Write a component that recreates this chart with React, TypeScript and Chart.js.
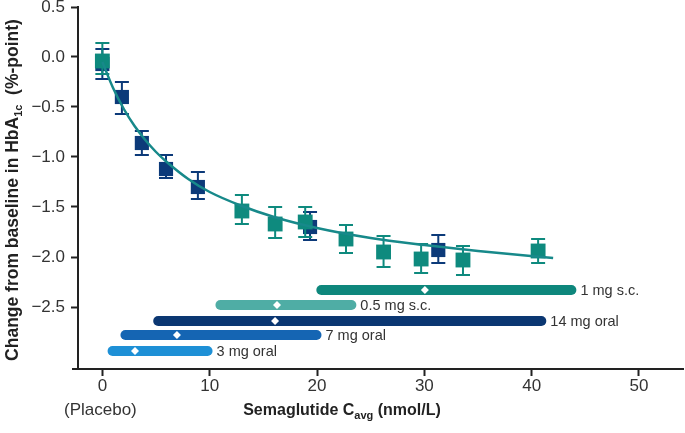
import React, { useEffect, useRef } from "react";
import { Chart, registerables } from "chart.js";

Chart.register(...registerables);

// ---- axis ticks ----
const X_TICKS = [0, 10, 20, 30, 40, 50];
const Y_TICKS = [0.5, 0, -0.5, -1, -1.5, -2, -2.5];

// ---- oral semaglutide (navy) exposure groups ----
const navyX = [0, 1.82, 3.68, 5.93, 8.9, 19.35, 31.3];
const navyY = [-0.07, -0.4, -0.86, -1.12, -1.3, -1.7, -1.93];
const navyHi = [0.08, -0.25, -0.74, -0.98, -1.15, -1.55, -1.78];
const navyLo = [-0.22, -0.57, -0.98, -1.21, -1.42, -1.83, -2.06];

// ---- s.c. semaglutide (teal) exposure groups ----
const tealX = [0, 13.0, 16.1, 18.9, 22.7, 26.2, 29.7, 33.6, 40.6];
const tealY = [-0.04, -1.54, -1.67, -1.65, -1.82, -1.95, -2.02, -2.03, -1.94];
const tealHi = [0.14, -1.38, -1.5, -1.5, -1.68, -1.79, -1.87, -1.89, -1.82];
const tealLo = [-0.17, -1.67, -1.81, -1.8, -1.96, -2.1, -2.16, -2.18, -2.06];

// ---- fitted exposure-response curve ----
const curveX = [0, 1, 2, 3, 4, 5, 6, 8, 10, 13, 16, 20, 25, 30, 35, 42];
const curveY = [-0.05, -0.31, -0.52, -0.69, -0.83, -0.95, -1.05, -1.22, -1.35, -1.49, -1.6, -1.71, -1.81, -1.88, -1.94, -2.01];

// ---- exposure ranges per dose ----
const rangeLabels = ["1 mg s.c.", "0.5 mg s.c.", "14 mg oral", "7 mg oral", "3 mg oral"];
const rangeLow = [20.4, 11.0, 5.2, 2.15, 0.95];
const rangeHigh = [43.7, 23.2, 40.9, 19.95, 9.8];
const rangeMedian = [30.05, 16.27, 16.09, 6.95, 3.04];
const rangeRow = [-2.33, -2.48, -2.64, -2.78, -2.94];

// ---- styles ----
const TEAL = "#0e8a7e";
const NAVY = "#0c3a79";
const CURVE = "#17898a";
const RANGE_COLORS = ["#0e877c", "#4fada5", "#0b3772", "#1565b3", "#1e90d6"];
const FONT = "'Liberation Sans', Arial, sans-serif";
const TEXT = "#333333";
const AXIS = "#222222";

const fmtY = (v: number) => (v < 0 ? "\u2212" : "") + Math.abs(v).toFixed(1);

type Part = { t: string; sub?: boolean };

function drawParts(ctx: CanvasRenderingContext2D, parts: Part[], size: number, subSize: number, bold: boolean) {
  const w = bold ? "bold " : "";
  let total = 0;
  const widths = parts.map((p) => {
    ctx.font = `${w}${p.sub ? subSize : size}px ${FONT}`;
    const m = ctx.measureText(p.t).width;
    total += m;
    return m;
  });
  let x = -total / 2;
  parts.forEach((p, i) => {
    ctx.font = `${w}${p.sub ? subSize : size}px ${FONT}`;
    ctx.fillText(p.t, x, p.sub ? size * 0.32 : 0);
    x += widths[i];
  });
}

const errorBarPlugin = {
  id: "errbars",
  beforeDatasetDraw(chart: any, args: any) {
    const ds = chart.data.datasets[args.index];
    if (!ds.errLo) return;
    const xs = chart.scales.x;
    const ys = chart.scales.y;
    const ctx = chart.ctx as CanvasRenderingContext2D;
    ctx.save();
    ctx.strokeStyle = ds.backgroundColor;
    ctx.lineWidth = 2;
    ds.data.forEach((p: any, i: number) => {
      const px = xs.getPixelForValue(p.x);
      const yh = ys.getPixelForValue(ds.errHi[i]);
      const yl = ys.getPixelForValue(ds.errLo[i]);
      ctx.beginPath();
      ctx.moveTo(px, yh);
      ctx.lineTo(px, yl);
      ctx.moveTo(px - 7, yh);
      ctx.lineTo(px + 7, yh);
      ctx.moveTo(px - 7, yl);
      ctx.lineTo(px + 7, yl);
      ctx.stroke();
    });
    ctx.restore();
  },
};

const textPlugin = {
  id: "texts",
  afterDraw(chart: any) {
    const ctx = chart.ctx as CanvasRenderingContext2D;
    const xs = chart.scales.x;
    const ys = chart.scales.y;
    const area = chart.chartArea;
    ctx.save();
    // short extension of the x axis line to the left of the y axis
    ctx.strokeStyle = AXIS;
    ctx.lineWidth = 2;
    ctx.beginPath();
    ctx.moveTo(area.left - 6, area.bottom);
    ctx.lineTo(area.left, area.bottom);
    ctx.stroke();

    ctx.fillStyle = TEXT;
    ctx.textBaseline = "middle";
    ctx.textAlign = "left";
    ctx.font = `14.5px ${FONT}`;
    rangeLabels.forEach((lab, i) => {
      const px = xs.getPixelForValue(rangeHigh[i]) + 5 + 4;
      const py = ys.getPixelForValue(rangeRow[i]);
      ctx.fillText(lab, px, py + 0.5);
    });
    // placebo label
    ctx.textAlign = "center";
    ctx.font = `17px ${FONT}`;
    ctx.fillText("(Placebo)", xs.getPixelForValue(0) - 2, 410);
    ctx.textAlign = "left";
    ctx.fillStyle = "#222";
    // x title
    ctx.save();
    ctx.translate(342, 411);
    drawParts(ctx, [{ t: "Semaglutide C" }, { t: "avg", sub: true }, { t: " (nmol/L)" }], 16, 11, true);
    ctx.restore();
    // y title
    ctx.save();
    ctx.translate(13, 190);
    ctx.rotate(-Math.PI / 2);
    drawParts(ctx, [{ t: "Change from baseline in HbA" }, { t: "1c", sub: true }, { t: "  (%-point)" }], 17.5, 11, true);
    ctx.restore();
    ctx.restore();
  },
};

export default function App() {
  const ref = useRef<HTMLCanvasElement | null>(null);
  useEffect(() => {
    if (!ref.current) return;
    const datasets: any[] = [];
    datasets.push({
      type: "scatter",
      showLine: true,
      data: curveX.map((x, i) => ({ x, y: curveY[i] })),
      borderColor: CURVE,
      borderWidth: 2.5,
      pointRadius: 0,
      cubicInterpolationMode: "monotone",
      order: 0,
    });
    datasets.push({
      type: "scatter",
      data: tealX.map((x, i) => ({ x, y: tealY[i] })),
      errHi: tealHi,
      errLo: tealLo,
      backgroundColor: TEAL,
      borderWidth: 0,
      pointStyle: "rect",
      pointRadius: 10.5,
      order: 1,
    });
    datasets.push({
      type: "scatter",
      data: navyX.map((x, i) => ({ x, y: navyY[i] })),
      errHi: navyHi,
      errLo: navyLo,
      backgroundColor: NAVY,
      borderWidth: 0,
      pointStyle: "rect",
      pointRadius: 10,
      order: 2,
    });
    datasets.push({
      type: "scatter",
      data: rangeMedian.map((x, i) => ({ x, y: rangeRow[i] })),
      backgroundColor: "#ffffff",
      borderWidth: 0,
      pointStyle: "rectRot",
      pointRadius: 4,
      order: 3,
    });
    rangeLabels.forEach((_, i) => {
      datasets.push({
        type: "scatter",
        showLine: true,
        data: [
          { x: rangeLow[i], y: rangeRow[i] },
          { x: rangeHigh[i], y: rangeRow[i] },
        ],
        borderColor: RANGE_COLORS[i],
        borderWidth: 10,
        borderCapStyle: "round",
        pointRadius: 0,
        order: 4 + i,
      });
    });

    const chart = new Chart(ref.current, {
      type: "scatter",
      data: { datasets },
      plugins: [errorBarPlugin, textPlugin],
      options: {
        animation: false,
        responsive: false,
        events: [],
        layout: { autoPadding: false, padding: { left: 0, right: 2, top: 7, bottom: 0 } },
        plugins: { legend: { display: false }, tooltip: { enabled: false } },
        scales: {
          x: {
            type: "linear",
            min: -2.27,
            max: 54.1,
            afterBuildTicks: (s: any) => {
              s.ticks = X_TICKS.map((v) => ({ value: v }));
            },
            afterFit: (s: any) => {
              s.height = 64;
              s.paddingLeft = 0;
              s.paddingRight = 0;
            },
            border: { display: true, color: AXIS, width: 2 },
            grid: { display: true, drawOnChartArea: false, drawTicks: true, tickLength: 7, tickWidth: 2, tickColor: AXIS },
            ticks: {
              color: TEXT,
              font: { family: FONT, size: 17 },
              padding: 0,
              maxRotation: 0,
              callback: (v: any) => String(v),
            },
          },
          y: {
            type: "linear",
            min: -3.12,
            max: 0.5,
            afterBuildTicks: (s: any) => {
              s.ticks = Y_TICKS.map((v) => ({ value: v }));
            },
            afterFit: (s: any) => {
              s.width = 78;
              s.paddingTop = 0;
              s.paddingBottom = 0;
            },
            border: { display: true, color: AXIS, width: 2 },
            grid: { display: true, drawOnChartArea: false, drawTicks: true, tickLength: 7, tickWidth: 2, tickColor: AXIS },
            ticks: {
              color: TEXT,
              font: { family: FONT, size: 17 },
              padding: 6,
              callback: (v: any) => fmtY(Number(v)),
            },
          },
        },
      } as any,
    });
    return () => chart.destroy();
  }, []);

  return (
    <div style={{ position: "fixed", left: 0, top: 0, width: 685, height: 433, background: "#fff" }}>
      <canvas ref={ref} width={685} height={433} style={{ width: 685, height: 433, display: "block" }} />
    </div>
  );
}
